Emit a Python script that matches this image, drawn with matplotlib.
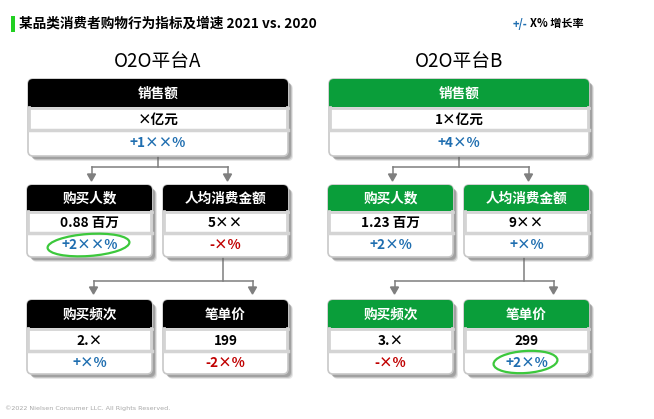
import matplotlib
matplotlib.use("Agg")
import matplotlib.pyplot as plt
from matplotlib.patches import FancyBboxPatch, Rectangle, Ellipse

plt.rcParams['font.family'] = ['Noto Sans CJK SC', 'DejaVu Sans']

# data
title = "某品类消费者购物行为指标及增速 2021 vs. 2020"
platforms = ["O2O平台A", "O2O平台B"]
metrics = ["销售额", "购买人数", "人均消费金额", "购买频次", "笔单价"]
values_a = ["×亿元", "0.88 百万", "5××", "2.×", "199"]
changes_a = ["+1××%", "+2××%", "-×%", "+×%", "-2×%"]
values_b = ["1×亿元", "1.23 百万", "9××", "3.×", "299"]
changes_b = ["+4×%", "+2×%", "+×%", "-×%", "+2×%"]
circled = [1, 4]   # which metric has the green circle, per platform

# colours
head_colors = ["#000000", "#0a9e3a"]
blue = "#1f6eb0"
red = "#c00000"
grey_line = "#7f7f7f"

fig = plt.figure(figsize=(6.54, 4.19), dpi=100)
ax = fig.add_axes([0, 0, 1, 1])
ax.set_xlim(0, 654)
ax.set_ylim(419, 0)
ax.axis("off")


def draw_box(x, y, w, hh, r1, r2, hcolor, label, value, change):
    h = hh + r1 + r2
    # shadow
    for k, a in [(5, 0.15), (4, 0.25), (3, 0.35)]:
        ax.add_patch(FancyBboxPatch((x + k, y + k), w, h,
                                    boxstyle="round,pad=0,rounding_size=5",
                                    fc="#606060", ec="none", alpha=a, zorder=1))
    ax.add_patch(FancyBboxPatch((x, y), w, h, boxstyle="round,pad=0,rounding_size=5",
                                fc="white", ec="#c8c8c8", lw=1.2, zorder=2))
    ax.add_patch(FancyBboxPatch((x, y), w, hh, boxstyle="round,pad=0,rounding_size=5",
                                fc=hcolor, ec="none", zorder=3))
    ax.add_patch(Rectangle((x, y + hh / 2), w, hh / 2, fc=hcolor, ec="none", zorder=3))
    ax.plot([x + 0.5, x + w - 0.5], [y + hh + 1, y + hh + 1], color="#d4d4d4", lw=2, zorder=4)
    ax.plot([x + 0.5, x + w - 0.5], [y + hh + r1, y + hh + r1], color="#d4d4d4", lw=2.5, zorder=4)
    ax.plot([x + 1, x + 1], [y + hh, y + hh + r1], color="#d4d4d4", lw=2, zorder=4)
    ax.plot([x + w - 1, x + w - 1], [y + hh, y + hh + r1], color="#d4d4d4", lw=2, zorder=4)
    cx = x + w / 2
    ax.text(cx, y + hh / 2 + 0.5, label, color="white", fontsize=9.8, fontweight="bold",
            ha="center", va="center", zorder=5)
    ax.text(cx, y + hh + r1 / 2 + 1, value, color="black", fontsize=9.8, fontweight="bold",
            ha="center", va="center", zorder=5)
    ax.text(cx, y + hh + r1 + r2 / 2, change, color=blue if change.startswith("+") else red,
            fontsize=9.8, fontweight="bold", ha="center", va="center", zorder=5)
    return cx


def connector(x0, y0, ymid, xl, xr, ytip):
    ax.plot([x0, x0], [y0, ymid], color=grey_line, lw=1.1, zorder=0)
    ax.plot([xl, xr], [ymid, ymid], color=grey_line, lw=1.1, zorder=0)
    for xx in (xl, xr):
        ax.plot([xx, xx], [ymid, ytip - 5], color=grey_line, lw=1.1, zorder=0)
        ax.fill([xx - 4, xx + 4, xx], [ytip - 7, ytip - 7, ytip], color=grey_line, zorder=0)


# title + legend
ax.add_patch(Rectangle((11, 16), 4, 16, fc="#22d022", ec="none"))
ax.text(19, 24, title, fontsize=9.8, fontweight="bold", ha="left", va="center")
ax.text(513, 24, "+/-", fontsize=8, fontweight="bold", color=blue, ha="left", va="center")
ax.text(530, 24, "X% 增长率", fontsize=8, fontweight="bold", color="black", ha="left", va="center")

# layout
panel_x = [28, 329]
small_w = 125
gap = 10
tops = [79, 185, 300]
conn = [(167, 181), (281, 294)]

for p in range(2):
    vals = [values_a, values_b][p]
    chg = [changes_a, changes_b][p]
    px = panel_x[p]
    full_w = 2 * small_w + gap
    ax.text(px + full_w / 2, 62, platforms[p], fontsize=13.5, ha="center", va="center")
    ctop = draw_box(px, tops[0], full_w, 28, 23, 26, head_colors[p], metrics[0], vals[0], chg[0])
    cl = draw_box(px - 1, tops[1], small_w, 26, 22, 24, head_colors[p], metrics[1], vals[1], chg[1])
    cr = draw_box(px + small_w + gap, tops[1], small_w, 26, 22, 24, head_colors[p],
                  metrics[2], vals[2], chg[2])
    draw_box(px - 1, tops[2], small_w, 28, 23, 23, head_colors[p], metrics[3], vals[3], chg[3])
    draw_box(px + small_w + gap, tops[2], small_w, 28, 23, 23, head_colors[p],
             metrics[4], vals[4], chg[4])
    connector(ctop, tops[0] + 77, conn[0][0], cl + 2, cr + 2, conn[0][1])
    connector(cr - 3, tops[1] + 72, conn[1][0], cl + 4, cr + 27, conn[1][1])

    # green circle around highlighted change
    k = circled[p]
    bx = [cl, cr, cl, cr][k - 1]
    by = [tops[1] + 60, tops[1] + 60, tops[2] + 62, tops[2] + 62][k - 1]
    ax.add_patch(Ellipse((bx - 1, by), 82 if p == 0 else 64, 22, angle=-4,
                         fill=False, ec="#3cc83c", lw=1.6, zorder=6))

ax.text(5, 408, "©2022 Nielsen Consumer LLC. All Rights Reserved.", fontsize=4.6,
        color="#a8a8a8", ha="left", va="center", family=["DejaVu Sans"])

fig.savefig("out.png", dpi=100)
